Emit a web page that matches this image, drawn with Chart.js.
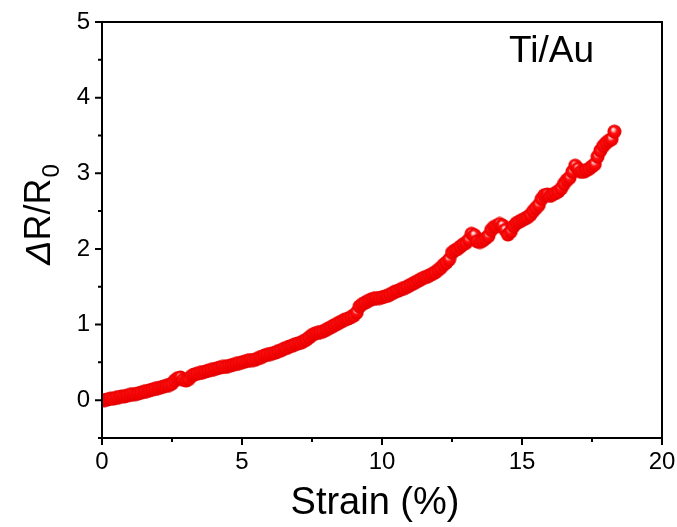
<!DOCTYPE html>
<html>
<head>
<meta charset="utf-8">
<script src="https://cdn.jsdelivr.net/npm/chart.js@4.4.0/dist/chart.umd.min.js"></script>
<style>
  html, body { margin: 0; background: #fff; }
  #wrap { width: 677px; height: 527px; }
</style>
</head>
<body>
<div id="wrap"><canvas id="myChart"></canvas></div>
<script>
// Strain (%) and dR/R0
const strain = [
  0.0, 0.1, 0.2, 0.3, 0.4, 0.5, 0.6, 0.7, 0.8, 0.9,
  1.0, 1.1, 1.2, 1.3, 1.4, 1.5, 1.6, 1.7, 1.8, 1.9,
  2.0, 2.1, 2.2, 2.3, 2.4, 2.5, 2.6, 2.7, 2.8, 2.9,
  3.0, 3.1, 3.2, 3.3, 3.4, 3.5, 3.6, 3.7, 3.8, 3.9,
  4.0, 4.1, 4.2, 4.3, 4.4, 4.5, 4.6, 4.7, 4.8, 4.9,
  5.0, 5.1, 5.2, 5.3, 5.4, 5.5, 5.6, 5.7, 5.8, 5.9,
  6.0, 6.1, 6.2, 6.3, 6.4, 6.5, 6.6, 6.7, 6.8, 6.9,
  7.0, 7.1, 7.2, 7.3, 7.4, 7.5, 7.6, 7.7, 7.8, 7.9,
  8.0, 8.1, 8.2, 8.3, 8.4, 8.5, 8.6, 8.7, 8.8, 8.9,
  9.0, 9.1, 9.2, 9.3, 9.4, 9.5, 9.6, 9.7, 9.8, 9.9,
  10.0, 10.1, 10.2, 10.3, 10.4, 10.5, 10.6, 10.7, 10.8, 10.9,
  11.0, 11.1, 11.2, 11.3, 11.4, 11.5, 11.6, 11.7, 11.8, 11.9,
  12.0, 12.1, 12.2, 12.3, 12.4, 12.5, 12.6, 12.7, 12.8, 12.9,
  13.0, 13.1, 13.2, 13.3, 13.4, 13.5, 13.6, 13.7, 13.8, 13.9,
  14.0, 14.1, 14.2, 14.3, 14.4, 14.5, 14.6, 14.7, 14.8, 14.9,
  15.0, 15.1, 15.2, 15.3, 15.4, 15.5, 15.6, 15.7, 15.8, 15.9,
  16.0, 16.1, 16.2, 16.3, 16.4, 16.5, 16.6, 16.7, 16.8, 16.9,
  17.0, 17.1, 17.2, 17.3, 17.4, 17.5, 17.6, 17.7, 17.8, 17.9,
  18.0, 18.1, 18.2, 18.3
];
const deltaR = [
  0.00, 0.00, 0.01, 0.02, 0.02, 0.03, 0.04, 0.05, 0.05, 0.06,
  0.07, 0.08, 0.08, 0.09, 0.10, 0.11, 0.12, 0.13, 0.14, 0.15,
  0.16, 0.17, 0.18, 0.19, 0.20, 0.22, 0.26, 0.29, 0.30, 0.27,
  0.26, 0.28, 0.32, 0.34, 0.35, 0.36, 0.37, 0.38, 0.39, 0.40,
  0.41, 0.42, 0.43, 0.44, 0.44, 0.45, 0.46, 0.47, 0.48, 0.49,
  0.50, 0.51, 0.52, 0.53, 0.53, 0.54, 0.56, 0.57, 0.59, 0.60,
  0.61, 0.62, 0.63, 0.65, 0.66, 0.68, 0.69, 0.71, 0.72, 0.74,
  0.75, 0.76, 0.78, 0.80, 0.83, 0.86, 0.88, 0.89, 0.90, 0.91,
  0.93, 0.95, 0.97, 0.99, 1.01, 1.03, 1.05, 1.07, 1.08, 1.10,
  1.12, 1.16, 1.24, 1.27, 1.29, 1.31, 1.33, 1.34, 1.35, 1.35,
  1.36, 1.37, 1.38, 1.40, 1.42, 1.44, 1.45, 1.47, 1.48, 1.50,
  1.52, 1.54, 1.56, 1.58, 1.60, 1.62, 1.63, 1.65, 1.67, 1.69,
  1.72, 1.75, 1.79, 1.82, 1.86, 1.95, 1.98, 2.00, 2.03, 2.06,
  2.08, 2.12, 2.20, 2.18, 2.10, 2.09, 2.11, 2.14, 2.17, 2.25,
  2.29, 2.30, 2.33, 2.31, 2.25, 2.19, 2.23, 2.30, 2.34, 2.36,
  2.38, 2.40, 2.42, 2.45, 2.50, 2.54, 2.58, 2.66, 2.71, 2.72,
  2.70, 2.72, 2.74, 2.76, 2.80, 2.86, 2.91, 2.94, 3.02, 3.10,
  3.06, 3.02, 3.02, 3.04, 3.06, 3.09, 3.12, 3.22, 3.30, 3.36,
  3.40, 3.43, 3.45, 3.55
];
const xTicks = [0, 5, 10, 15, 20];
const yTicks = [0, 1, 2, 3, 4, 5];
const sampleLabel = "Ti/Au";

// shaded red ball used as the marker
function makeBall(r) {
  const c = document.createElement("canvas");
  c.width = c.height = r * 2 + 1;
  const g = c.getContext("2d");
  const cx = r + 0.5, cy = r + 0.5;
  const grad = g.createRadialGradient(cx - r * 0.2, cy - r * 0.35, 0.3, cx, cy, r);
  grad.addColorStop(0, "#ffffff");
  grad.addColorStop(0.18, "#ffb0b0");
  grad.addColorStop(0.45, "#ff1010");
  grad.addColorStop(0.85, "#f20000");
  grad.addColorStop(1, "#d80000");
  g.fillStyle = grad;
  g.beginPath();
  g.arc(cx, cy, r, 0, Math.PI * 2);
  g.fill();
  return c;
}

const FONT = "'Liberation Sans', Arial, sans-serif";

const frame = {
  id: "frame",
  afterDraw(chart) {
    const { ctx, chartArea: a, scales } = chart;
    ctx.save();
    ctx.strokeStyle = "#000";
    ctx.lineWidth = 2;
    ctx.strokeRect(a.left, a.top, a.right - a.left, a.bottom - a.top);
    // ticks, outward
    ctx.beginPath();
    scales.x.ticks.forEach(t => {
      const px = scales.x.getPixelForValue(t.value);
      const len = xTicks.includes(t.value) ? 7 : 4;
      ctx.moveTo(px, a.bottom);
      ctx.lineTo(px, a.bottom + len);
    });
    scales.y.ticks.forEach(t => {
      const py = scales.y.getPixelForValue(t.value);
      const len = yTicks.includes(t.value) ? 7 : 4;
      ctx.moveTo(a.left, py);
      ctx.lineTo(a.left - len, py);
    });
    ctx.stroke();

    ctx.fillStyle = "#000";
    ctx.textBaseline = "alphabetic";
    // x title
    ctx.font = "38px " + FONT;
    ctx.textAlign = "center";
    ctx.fillText("Strain (%)", 375, 514);
    // sample label
    ctx.font = "37px " + FONT;
    ctx.textAlign = "left";
    ctx.fillText(sampleLabel, 509, 62);
    // y title with italic delta and subscript
    ctx.translate(50, 215);
    ctx.rotate(-Math.PI / 2);
    const p1 = "\u0394", p2 = "R/R", p3 = "0";
    ctx.font = "italic 36px " + FONT;
    const w1 = ctx.measureText(p1).width;
    ctx.font = "36px " + FONT;
    const w2 = ctx.measureText(p2).width;
    ctx.font = "24px " + FONT;
    const w3 = ctx.measureText(p3).width;
    let x0 = -(w1 + w2 + w3) / 2;
    ctx.font = "italic 36px " + FONT;
    ctx.fillText(p1, x0, 0);
    ctx.font = "36px " + FONT;
    ctx.fillText(p2, x0 + w1, 0);
    ctx.font = "24px " + FONT;
    ctx.fillText(p3, x0 + w1 + w2 + 1, 9);
    ctx.restore();
  }
};

const data = {
  datasets: [
    {
      data: strain.map((s, i) => ({ x: s, y: deltaR[i] })),
      showLine: false,
      pointStyle: makeBall(7),
      pointRadius: 7,
      borderColor: "red",
      backgroundColor: "red",
    },
  ],
};

const options = {
  responsive: true,
  maintainAspectRatio: false,
  animation: false,
  layout: { padding: { top: 22, right: 15, left: 0, bottom: 0 } },
  plugins: { legend: { display: false }, tooltip: { enabled: false } },
  scales: {
    x: {
      type: "linear",
      min: 0,
      max: 20,
      afterFit: s => { s.height = 89; s.paddingLeft = 0; s.paddingRight = 0; },
      afterBuildTicks: s => {
        s.ticks = [0, 2.5, 5, 7.5, 10, 12.5, 15, 17.5, 20].map(v => ({ value: v }));
      },
      grid: { display: false, drawTicks: false },
      border: { display: false },
      ticks: {
        padding: 10,
        color: "#000",
        font: { size: 24, family: FONT },
        autoSkip: false,
        maxRotation: 0,
        callback: v => (xTicks.includes(v) ? String(v) : ""),
      },
    },
    y: {
      type: "linear",
      min: -0.5,
      max: 5,
      afterFit: s => { s.width = 102; s.paddingTop = 0; s.paddingBottom = 0; },
      afterBuildTicks: s => {
        s.ticks = [-0.5, 0, 0.5, 1, 1.5, 2, 2.5, 3, 3.5, 4, 4.5, 5].map(v => ({ value: v }));
      },
      grid: { display: false, drawTicks: false },
      border: { display: false },
      ticks: {
        padding: 12,
        color: "#000",
        font: { size: 24, family: FONT },
        autoSkip: false,
        callback: v => (yTicks.includes(v) ? String(v) : ""),
      },
    },
  },
};

const myChart = new Chart(document.getElementById("myChart"), {
  type: "scatter",
  data: data,
  options,
  plugins: [frame],
});
</script>
</body>
</html>
